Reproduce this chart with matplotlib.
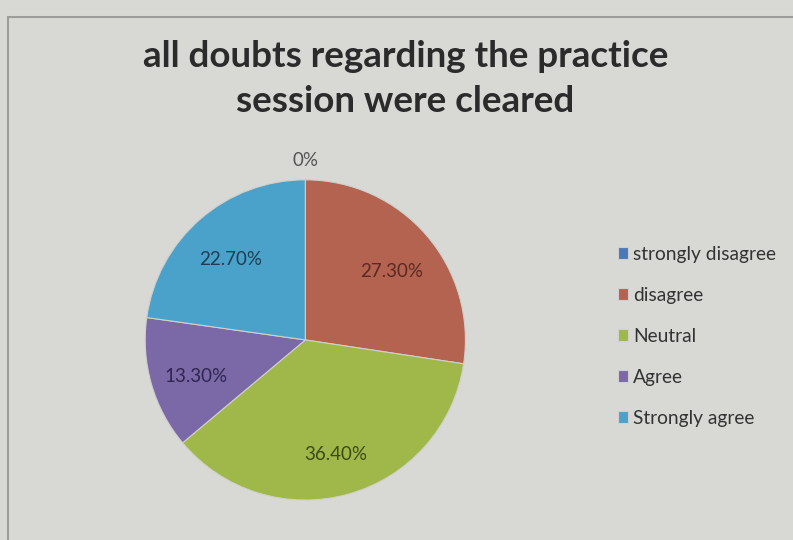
import numpy as np
import matplotlib.pyplot as plt
from matplotlib.patches import Rectangle

plt.rcParams['font.family'] = ['Lato', 'DejaVu Sans']

# data
categories = ["strongly disagree", "disagree", "Neutral", "Agree", "Strongly agree"]
shares = [0.0, 27.3, 36.4, 13.3, 22.7]
pct_labels = ["0%", "27.30%", "36.40%", "13.30%", "22.70%"]
colors = ["#4a78b8", "#b3634f", "#a0b84a", "#7a69a6", "#4aa2ca"]
label_colors = ["#555555", "#5a2a22", "#3c4a18", "#2e2650", "#1d3e55"]

fig = plt.figure(figsize=(7.93, 5.4), dpi=100)
fig.patch.set_facecolor("#d8d9d4")

# chart frame (runs off the right and bottom edges in the photo)
fig.add_artist(Rectangle((8 / 793, -0.05), 1.0, 1 - 17 / 540 + 0.05,
                         transform=fig.transFigure, facecolor="none",
                         edgecolor="#9c9c9a", linewidth=1.5))

fig.text(0.511, 0.853, "all doubts regarding the practice\nsession were cleared",
         ha="center", va="center", fontsize=26.5, fontweight="bold",
         color="#2b2b2b", linespacing=1.45)

ax = fig.add_axes([0.183, 0.074, 0.404, 0.593])
wedges, _ = ax.pie(shares, colors=colors, startangle=90, counterclock=False,
                   radius=1.0, wedgeprops=dict(edgecolor="#d0d0cc", linewidth=0.8))
ax.set_xlim(-1, 1)
ax.set_ylim(-1, 1)
ax.set_aspect("equal")
ax.axis("off")

for w, lab, c, s in zip(wedges, pct_labels, label_colors, shares):
    mid = np.deg2rad((w.theta1 + w.theta2) / 2)
    dist = 1.12 if s == 0 else 0.71
    ax.text(dist * np.cos(mid), dist * np.sin(mid) - (0 if s == 0 else 0.035), lab,
            ha="center", va="center", fontsize=13.5, color=c, clip_on=False)

leg = fig.legend(wedges, categories, loc="center left",
                 bbox_to_anchor=(0.757, 0.377), frameon=False, fontsize=13.8,
                 handlelength=0.55, handleheight=0.55, handletextpad=0.25,
                 labelspacing=1.25, labelcolor="#333333")

fig.savefig("out.png", dpi=100, facecolor=fig.get_facecolor())
